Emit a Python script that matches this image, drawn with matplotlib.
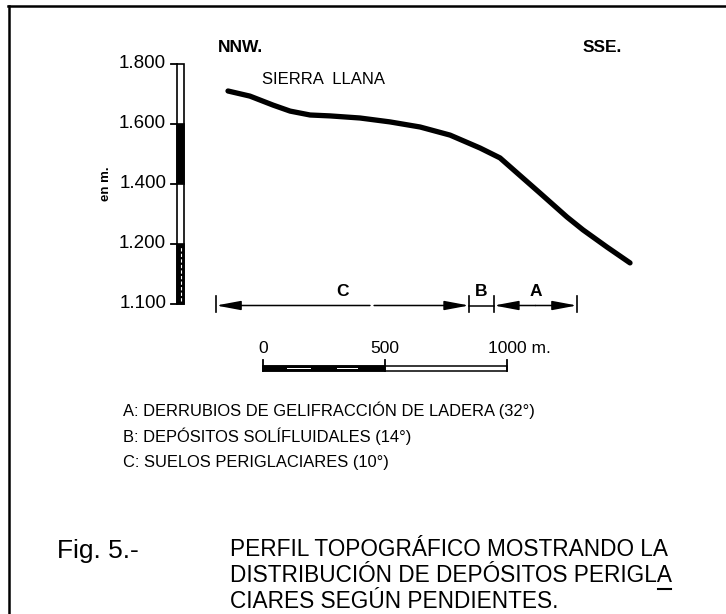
import matplotlib.pyplot as plt
from matplotlib.lines import Line2D
from matplotlib.patches import Rectangle

# Profile (distance from the NNW end, m) and altitude (m)
dist_m = [0, 90, 185, 255, 337, 419, 542, 665, 789, 912, 1035, 1117,
          1187, 1281, 1392, 1458, 1556, 1651]
elev_m = [1710, 1693, 1663, 1643, 1630, 1627, 1620, 1607, 1590, 1563, 1520, 1487,
          1437, 1370, 1290, 1247, 1190, 1137]

# Vertical axis (the original drawing puts "1.100" where 1.000 would fall)
ytick_pos = [1000, 1200, 1400, 1600, 1800]
ytick_labels = ["1.100", "1.200", "1.400", "1.600", "1.800"]

# Slope zones along the profile
zone_names = ["C", "B", "A"]
zone_bounds = [-49, 990, 1092, 1433]

# Graphic scale
scale_ticks = [0, 500, 1000]
scale_labels = ["0", "500", "1000 m."]

legend_lines = [
    "A: DERRUBIOS DE GELIFRACCIÓN DE LADERA (32°)",
    "B: DEPÓSITOS SOLÍFLUIDALES (14°)",
    "C: SUELOS PERIGLACIARES (10°)",
]
caption_lines = [
    "PERFIL TOPOGRÁFICO MOSTRANDO LA",
    "DISTRIBUCIÓN DE DEPÓSITOS PERIGLA",
    "CIARES SEGÚN PENDIENTES.",
]

W, H = 726, 614
FONT = "Liberation Sans"


def P(px, py):
    # pixel position -> figure fraction
    return px / W, 1 - py / H


fig = plt.figure(figsize=(W / 100, H / 100), dpi=100)
ax = fig.add_axes([0, 0, 1, 1])
# pixel mapping: x = 228 + 0.2435*d ; y = 64 + 0.3*(1800 - h)
ax.set_xlim((0 - 228) / 0.2435, (W - 228) / 0.2435)
ax.set_ylim(1800 - (H - 64) / 0.3, 1800 + 64 / 0.3)
ax.axis("off")

# frame (top and left edges only)
fig.add_artist(Line2D([8 / W, 1], [1 - 6 / H, 1 - 6 / H], color="black", lw=1.8))
fig.add_artist(Line2D([9 / W, 9 / W], [1 - 6 / H, 0], color="black", lw=1.8))

# profile
ax.plot(dist_m, elev_m, color="black", lw=3.8, solid_capstyle="round",
        solid_joinstyle="round")

# vertical bar axis
bx0, bx1 = -209, -181
ax.add_patch(Rectangle((bx0, 1000), bx1 - bx0, 800, fc="white", ec="black", lw=1.2))
ax.add_patch(Rectangle((bx0, 1400), bx1 - bx0, 200, fc="black", ec="black", lw=1.2))
ax.add_patch(Rectangle((bx0, 1000), bx1 - bx0, 200, fc="black", ec="black", lw=1.2))
ax.plot([(bx0 + bx1) / 2] * 2, [1010, 1190], color="white", lw=0.8, ls=(0, (3, 2)))
for pos, lab in zip(ytick_pos, ytick_labels):
    ax.plot([-234, bx0], [pos, pos], color="black", lw=1.3)
    ax.text(-254, pos, lab, ha="right", va="center", fontsize=13.5,
            family=FONT)
ax.text(-500, 1400, "en m.", rotation=90, ha="center", va="center",
        fontsize=9.5, fontweight="bold", family=FONT)

# zone arrows
ay = 995
for b in zone_bounds:
    ax.plot([b, b], [973, 1027], color="black", lw=1.2)
arrow = dict(arrowstyle="-|>,head_length=1.5,head_width=0.28", color="black",
             lw=1.1, shrinkA=0, shrinkB=0)
c0, c1 = zone_bounds[0], zone_bounds[1]
ax.annotate("", xy=(c0, ay), xytext=(583, ay), arrowprops=arrow)
ax.annotate("", xy=(c1, ay), xytext=(600, ay), arrowprops=arrow)
ax.plot([zone_bounds[1], zone_bounds[2]], [ay, ay], color="black", lw=1.1)
amid = (zone_bounds[2] + zone_bounds[3]) / 2
ax.annotate("", xy=(zone_bounds[2], ay), xytext=(amid, ay), arrowprops=arrow)
ax.annotate("", xy=(zone_bounds[3], ay), xytext=(amid, ay), arrowprops=arrow)
for i, name in enumerate(zone_names):
    ax.text((zone_bounds[i] + zone_bounds[i + 1]) / 2, 1043, name, ha="center",
            va="center", fontsize=12.5, fontweight="bold", family=FONT)

# graphic scale
s0 = 144
ax.add_patch(Rectangle((s0, 777), 1000, 16, fc="white", ec="black", lw=1.1))
ax.add_patch(Rectangle((s0, 777), 500, 16, fc="black", ec="black", lw=1.1))
for a, b in [(99, 197), (304, 390)]:
    ax.add_patch(Rectangle((s0 + a, 782), b - a, 6, fc="white", ec="none"))
for t, lab in zip(scale_ticks, scale_labels):
    ax.plot([s0 + t, s0 + t], [777, 813], color="black", lw=1.3)
    if t == 1000:
        ax.text(s0 + t - 76, 850, lab, ha="left", va="center", fontsize=12.5,
                family=FONT)
    else:
        ax.text(s0 + t, 850, lab, ha="center", va="center", fontsize=12.5,
                family=FONT)

# headings
fig.text(*P(218, 47), "NNW.", ha="left", va="center", fontsize=12.5,
         fontweight="bold", family=FONT)
fig.text(*P(583, 47), "SSE.", ha="left", va="center", fontsize=12.5,
         fontweight="bold", family=FONT)
fig.text(*P(262, 79), "SIERRA  LLANA", ha="left", va="center", fontsize=12,
         family=FONT)

# legend
for i, line in enumerate(legend_lines):
    fig.text(*P(123, 410 + 26.5 * i), line, ha="left", va="center",
             fontsize=11.9, family=FONT)

# caption
fig.text(*P(57, 551), "Fig. 5.-", ha="left", va="center", fontsize=19,
         family=FONT)
cap = []
for i, line in enumerate(caption_lines):
    cap.append(fig.text(*P(230, 550 + 25.5 * i), line, ha="left", va="center",
                        fontsize=16.3, family=FONT))

fig.canvas.draw()
bb = cap[1].get_window_extent()
fig.add_artist(Line2D([(bb.x1 - 14) / W, (bb.x1 - 1) / W],
                      [(bb.y0 - 2) / H, (bb.y0 - 2) / H], color="black", lw=1.5))

fig.savefig("out.png", dpi=100)
